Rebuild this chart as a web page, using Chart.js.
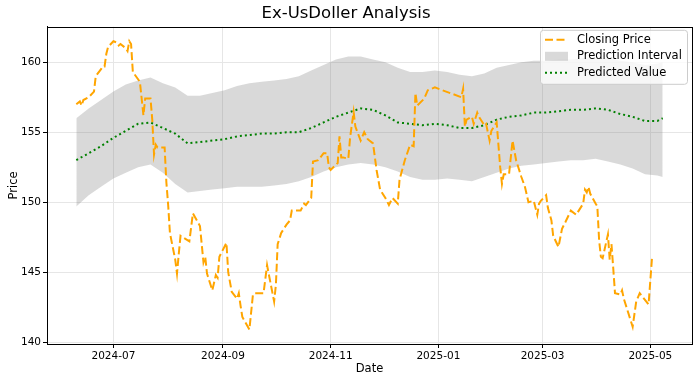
<!DOCTYPE html>
<html>
<head>
<meta charset="utf-8">
<script src="https://cdn.jsdelivr.net/npm/chart.js@4.4.1/dist/chart.umd.min.js"></script>
<style>
  html, body { margin: 0; padding: 0; background: #fff; }
</style>
</head>
<body>
<canvas id="canva" width="700" height="383"></canvas>
<script>
// closing price
const closeDates = [
  "2024-06-10","2024-06-12","2024-06-13","2024-06-14","2024-06-17","2024-06-20","2024-06-21","2024-06-24","2024-06-25","2024-06-26",
  "2024-06-27","2024-06-28","2024-07-01","2024-07-03","2024-07-04","2024-07-05","2024-07-08","2024-07-09","2024-07-10","2024-07-11",
  "2024-07-12","2024-07-16","2024-07-18","2024-07-19","2024-07-22","2024-07-23","2024-07-24","2024-07-25","2024-07-26","2024-07-30",
  "2024-07-31","2024-08-01","2024-08-02","2024-08-05","2024-08-06","2024-08-07","2024-08-08","2024-08-13","2024-08-15","2024-08-19",
  "2024-08-21","2024-08-22","2024-08-23","2024-08-26","2024-08-28","2024-08-29","2024-08-30","2024-09-03","2024-09-04","2024-09-06",
  "2024-09-09","2024-09-10","2024-09-11","2024-09-12","2024-09-16","2024-09-18","2024-09-19","2024-09-24","2024-09-26","2024-09-30",
  "2024-10-01","2024-10-02","2024-10-04","2024-10-07","2024-10-09","2024-10-10","2024-10-15","2024-10-17","2024-10-18","2024-10-21",
  "2024-10-22","2024-10-25","2024-10-28","2024-10-30","2024-10-31","2024-11-01","2024-11-05","2024-11-06","2024-11-07","2024-11-08",
  "2024-11-11","2024-11-12","2024-11-14","2024-11-15","2024-11-18","2024-11-20","2024-11-22","2024-11-25","2024-11-27","2024-11-29",
  "2024-12-02","2024-12-04","2024-12-06","2024-12-09","2024-12-10","2024-12-13","2024-12-16","2024-12-18","2024-12-19","2024-12-20",
  "2024-12-24","2024-12-26","2024-12-30","2025-01-14","2025-01-15","2025-01-16","2025-01-17","2025-01-20","2025-01-21","2025-01-23",
  "2025-01-24","2025-01-27","2025-01-28","2025-01-30","2025-01-31","2025-02-03","2025-02-05","2025-02-06","2025-02-07","2025-02-10",
  "2025-02-12","2025-02-14","2025-02-17","2025-02-19","2025-02-21","2025-02-24","2025-02-26","2025-02-27","2025-02-28","2025-03-03",
  "2025-03-04","2025-03-06","2025-03-07","2025-03-10","2025-03-12","2025-03-14","2025-03-17","2025-03-20","2025-03-24","2025-03-25",
  "2025-03-26","2025-03-27","2025-03-28","2025-03-31","2025-04-01","2025-04-02","2025-04-03","2025-04-04","2025-04-07","2025-04-08",
  "2025-04-09","2025-04-10","2025-04-11","2025-04-14","2025-04-15","2025-04-16","2025-04-18","2025-04-21","2025-04-23","2025-04-25",
  "2025-04-30","2025-05-02"
];
const closeValues = [
  157.0,157.2,156.9,157.3,157.5,157.9,159.0,159.5,159.7,159.7,
  160.6,161.1,161.5,161.4,161.2,161.3,161.0,160.8,161.5,161.3,
  159.3,158.6,156.2,157.4,157.4,155.9,153.4,154.1,153.9,153.9,
  151.4,149.8,147.8,145.9,144.9,146.3,147.6,147.2,149.2,148.3,
  145.7,146.1,144.9,143.7,144.8,144.6,146.1,147.1,145.0,143.6,
  143.1,143.5,142.6,141.8,140.9,143.4,143.5,143.5,145.5,142.9,
  144.1,147.0,147.8,148.4,148.7,149.4,149.4,149.9,149.8,150.3,
  152.9,153.0,153.5,153.5,152.5,152.3,152.8,154.7,153.2,153.2,
  153.1,154.6,156.45,155.4,154.4,155.0,154.5,154.2,152.3,150.9,
  150.3,149.8,150.3,149.9,151.6,153.0,154.1,154.0,157.8,156.9,
  157.4,158.0,158.2,157.5,158.1,155.4,155.9,156.1,155.6,156.4,
  156.1,155.5,155.6,154.4,155.1,155.7,152.5,151.3,152.0,152.0,
  154.4,153.0,151.8,151.1,150.0,150.1,149.1,149.9,150.1,150.5,
  149.6,148.7,147.6,146.8,148.1,148.6,149.4,149.1,149.9,150.9,
  150.7,151.1,150.6,149.9,149.7,147.3,146.1,146.0,147.7,145.9,
  147.0,145.3,143.5,143.4,143.7,143.1,142.3,141.1,142.9,143.5,
  142.7,146.1
];

// model output, one reading a week
const predDates = [
  "2024-06-10","2024-06-17","2024-06-24","2024-07-01","2024-07-08","2024-07-15","2024-07-22","2024-07-29","2024-08-05","2024-08-12",
  "2024-08-19","2024-08-26","2024-09-02","2024-09-09","2024-09-16","2024-09-23","2024-09-30","2024-10-07","2024-10-14","2024-10-21",
  "2024-10-28","2024-11-04","2024-11-11","2024-11-18","2024-11-25","2024-12-02","2024-12-09","2024-12-16","2024-12-23","2024-12-30",
  "2025-01-06","2025-01-13","2025-01-20","2025-01-27","2025-02-03","2025-02-10","2025-02-17","2025-02-24","2025-03-03","2025-03-10",
  "2025-03-17","2025-03-24","2025-03-31","2025-04-07","2025-04-14","2025-04-21","2025-04-28","2025-05-05","2025-05-08"
];
const predValues = [
  153.0,153.5,154.0,154.6,155.1,155.6,155.7,155.3,154.9,154.2,
  154.3,154.4,154.5,154.7,154.8,154.9,154.9,155.0,155.0,155.3,
  155.7,156.1,156.4,156.7,156.6,156.2,155.7,155.6,155.5,155.6,
  155.5,155.3,155.3,155.5,155.9,156.1,156.2,156.4,156.4,156.5,
  156.6,156.6,156.7,156.6,156.3,156.1,155.8,155.8,156.0
];
const upperValues = [
  156.0,156.7,157.3,157.9,158.4,158.7,158.9,158.5,158.2,157.6,
  157.6,157.8,158.0,158.3,158.5,158.6,158.7,158.8,159.0,159.4,
  159.8,160.2,160.4,160.4,160.2,160.0,159.6,159.3,159.3,159.4,
  159.3,159.1,159.0,159.2,159.6,159.8,160.0,160.1,160.1,160.2,
  160.2,160.3,160.3,160.3,160.1,160.0,159.8,159.9,160.0
];
const lowerValues = [
  149.7,150.5,151.1,151.7,152.1,152.5,152.7,152.1,151.3,150.7,
  150.8,150.9,151.0,151.1,151.1,151.1,151.2,151.3,151.5,151.8,
  152.2,152.5,152.7,152.8,152.7,152.5,152.2,151.8,151.6,151.6,
  151.7,151.6,151.5,151.8,152.1,152.4,152.6,152.7,152.8,152.9,
  153.0,153.0,153.1,152.9,152.7,152.4,152.0,151.9,151.8
];

const xTickLabels = ["2024-07", "2024-09", "2024-11", "2025-01", "2025-03", "2025-05"];
const yTickValues = [140, 145, 150, 155, 160];

const FONT = "DejaVu Sans";

const toPoints = (dates, vals) => dates.map((d, i) => ({ x: Date.parse(d), y: vals[i] }));

// matplotlib style 5% margins
const allX = closeDates.concat(predDates).map((d) => Date.parse(d));
const allY = closeValues.concat(predValues, upperValues, lowerValues);
const xLo = Math.min(...allX), xHi = Math.max(...allX);
const yLo = Math.min(...allY), yHi = Math.max(...allY);
const xPad = (xHi - xLo) * 0.05, yPad = (yHi - yLo) * 0.05;

const frame = {
  id: "frame",
  afterDraw(chart) {
    const { ctx, chartArea: a } = chart;
    ctx.save();
    ctx.strokeStyle = "#000";
    ctx.lineWidth = 1;
    ctx.strokeRect(Math.round(a.left) + 0.5, Math.round(a.top) + 0.5, Math.round(a.right - a.left), Math.round(a.bottom - a.top));
    ctx.restore();
  },
};

// legend inside the axes, upper right
const legendBox = {
  id: "legendBox",
  afterDraw(chart) {
    const { ctx, chartArea: a } = chart;
    const w = 147, h = 54;
    const x = a.right - 5 - w, y = a.top + 3;
    ctx.save();
    ctx.beginPath();
    ctx.roundRect(x + 0.5, y + 0.5, w, h, 3);
    ctx.fillStyle = "rgba(255,255,255,0.8)";
    ctx.fill();
    ctx.strokeStyle = "#cccccc";
    ctx.lineWidth = 1;
    ctx.stroke();

    const hx = x + 5, hw = 23, tx = x + 37;
    const rows = [y + 10, y + 26.5, y + 43];
    ctx.lineWidth = 2;
    ctx.strokeStyle = "orange";
    ctx.setLineDash([8, 3.5]);
    ctx.beginPath();
    ctx.moveTo(hx, rows[0]);
    ctx.lineTo(hx + hw, rows[0]);
    ctx.stroke();

    ctx.setLineDash([]);
    ctx.fillStyle = "rgba(128,128,128,0.3)";
    ctx.fillRect(hx, rows[1] - 4.5, hw, 9);

    ctx.strokeStyle = "green";
    ctx.setLineDash([2, 3]);
    ctx.beginPath();
    ctx.moveTo(hx, rows[2]);
    ctx.lineTo(hx + hw, rows[2]);
    ctx.stroke();
    ctx.setLineDash([]);

    ctx.fillStyle = "#000";
    ctx.font = "11.5px '" + FONT + "'";
    ctx.textBaseline = "middle";
    ctx.fillText("Closing Price", tx, rows[0]);
    ctx.fillText("Prediction Interval", tx, rows[1]);
    ctx.fillText("Predicted Value", tx, rows[2]);
    ctx.restore();
  },
};

new Chart(document.getElementById("canva"), {
  type: "line",
  data: {
    datasets: [
      {
        label: "Closing Price",
        data: toPoints(closeDates, closeValues),
        borderColor: "orange",
        borderWidth: 2,
        borderDash: [8, 3.5],
        pointRadius: 0,
        tension: 0,
        fill: false,
        order: 0,
      },
      {
        label: "Prediction Interval",
        data: toPoints(predDates, upperValues),
        borderWidth: 0,
        borderColor: "rgba(0,0,0,0)",
        backgroundColor: "rgba(128,128,128,0.3)",
        pointRadius: 0,
        fill: "+1",
        order: 3,
      },
      {
        label: "lower",
        data: toPoints(predDates, lowerValues),
        borderWidth: 0,
        borderColor: "rgba(0,0,0,0)",
        pointRadius: 0,
        fill: false,
        order: 4,
      },
      {
        label: "Predicted Value",
        data: toPoints(predDates, predValues),
        borderColor: "green",
        borderWidth: 2,
        borderDash: [2, 3],
        pointRadius: 0,
        fill: false,
        order: 1,
      },
    ],
  },
  options: {
    responsive: false,
    animation: false,
    parsing: false,
    layout: { padding: { left: 0, right: 8, top: 0, bottom: 0 } },
    scales: {
      x: {
        type: "linear",
        min: xLo - xPad,
        max: xHi + xPad,
        afterBuildTicks: (s) => {
          s.ticks = xTickLabels.map((l) => ({ value: Date.parse(l + "-01") }));
        },
        afterFit: (s) => { s.height = 39; },
        ticks: {
          callback: (v) => new Date(v).toISOString().slice(0, 7),
          autoSkip: false,
          maxRotation: 0,
          padding: 2,
          color: "#000",
          font: { family: FONT, size: 10.5 },
        },
        grid: { color: "#e6e6e6", tickColor: "#000", tickLength: 4 },
        border: { display: true, color: "#000" },
        title: {
          display: true,
          text: "Date",
          color: "#000",
          font: { family: FONT, size: 11.5 },
          padding: { top: 0, bottom: 7 },
        },
      },
      y: {
        min: yLo - yPad,
        max: yHi + yPad,
        afterBuildTicks: (s) => {
          s.ticks = yTickValues.map((v) => ({ value: v }));
        },
        afterFit: (s) => { s.width = 47; },
        ticks: {
          padding: 2,
          color: "#000",
          font: { family: FONT, size: 10.5 },
        },
        grid: { color: "#e6e6e6", tickColor: "#000", tickLength: 4 },
        border: { display: true, color: "#000" },
        title: {
          display: true,
          text: "Price",
          color: "#000",
          font: { family: FONT, size: 11.5 },
          padding: { top: 7, bottom: 0 },
        },
      },
    },
    plugins: {
      legend: { display: false },
      tooltip: { enabled: false },
      title: {
        display: true,
        text: "Ex-UsDoller Analysis",
        color: "#000",
        font: { family: FONT, size: 16.5, weight: "normal" },
        padding: { top: 4, bottom: 3 },
      },
    },
  },
  plugins: [frame, legendBox],
});
</script>
</body>
</html>
